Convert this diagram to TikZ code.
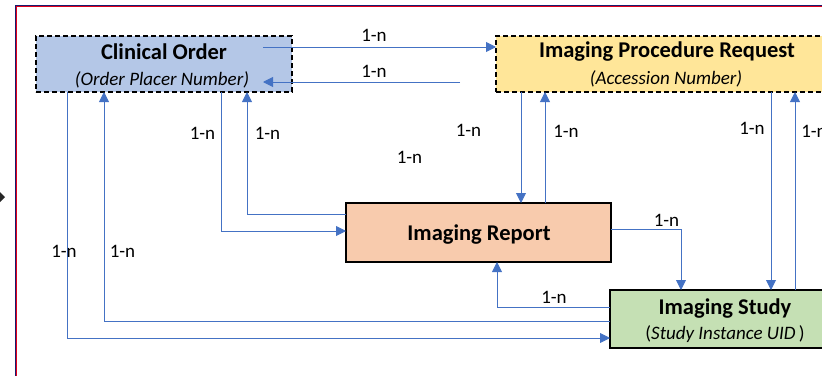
\documentclass[tikz,border=0pt]{standalone}
\usepackage{fontspec}
\setmainfont{Carlito}
\usetikzlibrary{arrows.meta,calc}
\definecolor{conn}{HTML}{4472C4}
\definecolor{cofill}{HTML}{B4C7E7}
\definecolor{iprfill}{HTML}{FFE699}
\definecolor{repfill}{HTML}{F8CBAD}
\definecolor{stfill}{HTML}{C5E0B4}
\definecolor{framenavy}{HTML}{1A1A6E}
\definecolor{framered}{HTML}{E0001B}
\tikzset{
  dashbox/.style={draw=black, line width=1.6pt, dash pattern=on 5pt off 3pt, inner sep=0pt, outer sep=0pt},
  solidbox/.style={draw=black, line width=2.6pt, inner sep=0pt, outer sep=0pt},
  title/.style={font=\fontsize{22.5}{26}\selectfont\bfseries, inner sep=0pt},
  subtitle/.style={font=\fontsize{19}{22}\selectfont\itshape, inner sep=0pt},
  lbl/.style={font=\fontsize{19}{22}\selectfont, inner sep=0pt},
  arr/.style={draw=conn, line width=0.9pt, -{Triangle[length=10pt,width=10pt]}},
}
\begin{document}
\begin{tikzpicture}[x=1pt,y=-1pt]
\useasboundingbox (0,0) rectangle (822,375);
\clip (0,0) rectangle (822,375);
% outer frame
\draw[framenavy, line width=1.4pt] (15.6,400) -- (15.6,5.6) -- (900,5.6);
\draw[framered, line width=0.9pt] (16.9,400) -- (16.9,6.9) -- (900,6.9);
\fill[black!85] (5,197) -- (-1.5,190.5) -- (-8,197) -- (-1.5,203.5) -- cycle;
% boxes
\node[dashbox, fill=cofill, minimum width=256pt, minimum height=56pt] (co) at (164,64) {};
\node[dashbox, fill=iprfill, minimum width=342pt, minimum height=56pt] (ipr) at (667,64) {};
\node[solidbox, fill=repfill, minimum width=265pt, minimum height=59pt] (rep) at (478.5,232.5) {};
\node[solidbox, fill=stfill, minimum width=230pt, minimum height=58pt] (st) at (725,319) {};
% texts
\node[title] (cot) at (164,52) {Clinical Order};
\node[subtitle] (cos) at (162,79.5) {(Order Placer Number)};
\node[title] (iprt) at (667,51.5) {Imaging Procedure Request};
\node[subtitle] (iprs) at (666,79) {(Accession Number)};
\node[title] (rept) at (479,235) {Imaging Report};
\node[title] (stt) at (725,309) {Imaging Study};
\node[font=\fontsize{19}{22}\selectfont, inner sep=0pt] (sts) at (725,334.5) {(\textit{Study Instance UID}\,)};
% connectors
\coordinate (a1) at ($(co.north west)+(227,11)$);
\draw[arr] (a1) -- (a1 -| ipr.west);
\coordinate (a2s) at ($(ipr.north west)+(-36,46)$);
\coordinate (a2e) at ($(co.north west)+(227,46)$);
\draw[arr] (a2s) -- (a2e);
\draw[arr] ($(co.south west)+(185,0)$) |- ($(rep.north west)+(0,28)$);
\draw[arr] ($(rep.north west)+(0,11)$) -| ($(co.south west)+(211,0)$);
\draw[arr] ($(ipr.south west)+(25,0)$) -- ($(rep.north west)+(175,0)$);
\draw[arr] ($(rep.north west)+(199,0)$) -- ($(ipr.south west)+(49,0)$);
\draw[arr] ($(rep.north east)+(0,26)$) -| ($(st.north west)+(71,0)$);
\draw[arr] ($(ipr.south west)+(275,0)$) -- ($(st.north west)+(161,0)$);
\draw[arr] ($(st.north west)+(185,0)$) -- ($(ipr.south west)+(299,0)$);
\draw[arr] ($(st.north west)+(0,17)$) -| ($(rep.south west)+(151,0)$);
\draw[arr] ($(st.north west)+(0,31)$) -| ($(co.south west)+(68,0)$);
\draw[arr] ($(co.south west)+(31,0)$) |- ($(st.north west)+(0,48)$);
% labels
\node[lbl] (l1) at (374,35.5) {1-n};
\node[lbl] (l2) at (374,71.5) {1-n};
\node[lbl] (l3) at (202.5,133) {1-n};
\node[lbl] (l4) at (267.5,133) {1-n};
\node[lbl] (l5) at (409.5,157) {1-n};
\node[lbl] (l6) at (468.5,130) {1-n};
\node[lbl] (l7) at (566,131) {1-n};
\node[lbl] (l8) at (666.5,220) {1-n};
\node[lbl] (l9) at (752,128.5) {1-n};
\node[lbl] (l10) at (814,131.5) {1-n};
\node[lbl] (l11) at (554,297) {1-n};
\node[lbl] (l12) at (122.5,251.5) {1-n};
\node[lbl] (l13) at (64,251) {1-n};
\end{tikzpicture}
\end{document}
